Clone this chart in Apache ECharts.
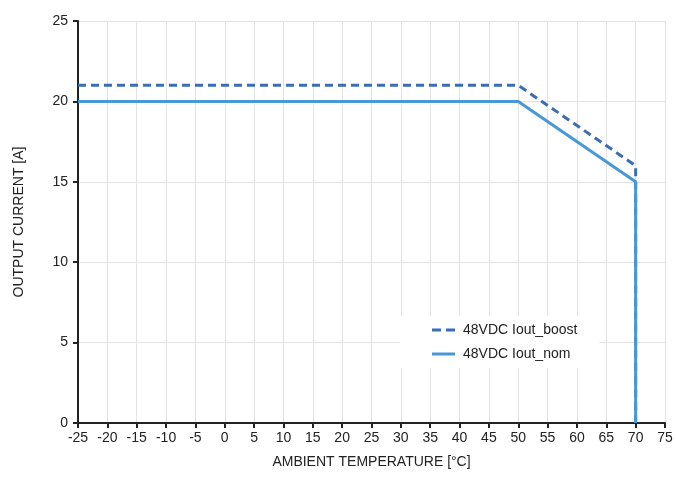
<!DOCTYPE html>
<html>
<head>
<meta charset="utf-8">
<script src="https://cdn.jsdelivr.net/npm/echarts@6/dist/echarts.min.js"></script>
<style>
  html, body { margin: 0; padding: 0; background: #fff; }
  #chart { width: 676px; height: 477px; }
</style>
</head>
<body>
<div id="chart"></div>
<script>
// derating curves: [temperature, current]
const boostTemp = [-25, 50, 70, 70]
const boostCurrent = [21, 21, 16, 0]
const nomTemp = [-25, 50, 70, 70]
const nomCurrent = [20, 20, 15, 0]
const seriesNames = ['48VDC Iout_boost', '48VDC Iout_nom']

const font = "'Liberation Sans Narrow', 'Liberation Sans', Arial, sans-serif"
const chart = echarts.init(document.getElementById('chart'))

const pair = (xs, ys) => xs.map((x, i) => [x, ys[i]])

chart.setOption({
  animation: false,
  textStyle: { fontFamily: font },
  grid: { left: 78, right: 11, top: 21, bottom: 54 },
  legend: {
    left: 400,
    top: 316,
    orient: 'vertical',
    backgroundColor: '#fff',
    padding: [7, 22, 7, 32],
    itemGap: 10,
    itemWidth: 23,
    itemHeight: 3,
    textStyle: { fontFamily: font, fontSize: 14, color: '#222', padding: [0, 0, 0, 3] },
    data: [
      { name: seriesNames[0], icon: 'path://M0,0h9v3h-9z M14,0h9v3h-9z', itemStyle: { color: '#3b6db5' } },
      { name: seriesNames[1], icon: 'rect', itemStyle: { color: '#4897d6' } },
    ],
  },
  xAxis: {
    type: 'value',
    min: -25,
    max: 75,
    interval: 5,
    name: 'AMBIENT TEMPERATURE [°C]',
    nameLocation: 'middle',
    nameGap: 32,
    nameTextStyle: { fontFamily: font, fontSize: 14, color: '#222' },
    axisLine: { onZero: false, lineStyle: { color: '#222', width: 2 } },
    axisTick: { show: true, length: 5, lineStyle: { color: '#222', width: 2 } },
    axisLabel: { fontFamily: font, fontSize: 14, color: '#222', margin: 8 },
    splitLine: { show: true, lineStyle: { color: '#e3e3e3', width: 1 } },
  },
  yAxis: {
    type: 'value',
    min: 0,
    max: 25,
    interval: 5,
    name: 'OUTPUT CURRENT [A]',
    nameLocation: 'middle',
    nameGap: 52,
    nameTextStyle: { fontFamily: font, fontSize: 14, color: '#222' },
    axisLine: { show: true, onZero: false, lineStyle: { color: '#222', width: 2 } },
    axisTick: { show: true, length: 5, lineStyle: { color: '#222', width: 2 } },
    axisLabel: { fontFamily: font, fontSize: 14, color: '#222', margin: 10 },
    splitLine: { show: true, lineStyle: { color: '#e3e3e3', width: 1 } },
  },
  series: [
    {
      name: seriesNames[0],
      type: 'line',
      data: pair(boostTemp, boostCurrent),
      symbol: 'none',
      color: '#3b6db5',
      lineStyle: { width: 3, type: [8, 5], color: '#3b6db5' },
    },
    {
      name: seriesNames[1],
      type: 'line',
      data: pair(nomTemp, nomCurrent),
      symbol: 'none',
      color: '#4897d6',
      lineStyle: { width: 3, color: '#4897d6' },
    },
  ],
})
</script>
</body>
</html>
